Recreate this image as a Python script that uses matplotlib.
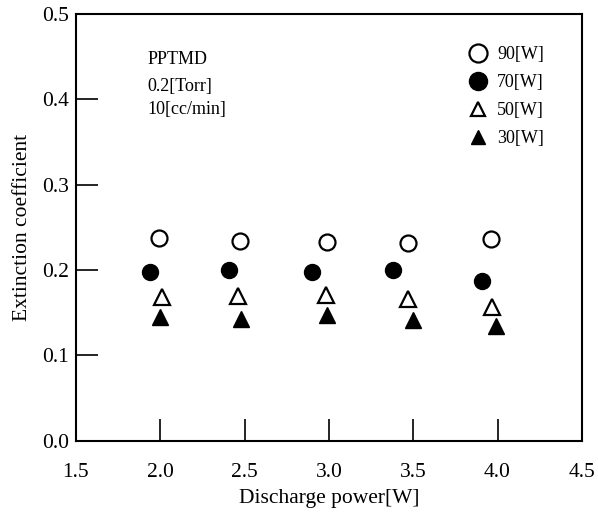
import numpy as np
import matplotlib
matplotlib.use('Agg')
import matplotlib.pyplot as plt
from matplotlib.lines import Line2D

plt.rcParams['font.family'] = ['Liberation Serif', 'DejaVu Serif']

# values
x90 = [1.99, 2.47, 2.99, 3.47, 3.96]
y90 = [0.237, 0.234, 0.233, 0.232, 0.236]
x70 = [1.94, 2.41, 2.90, 3.38, 3.91]
y70 = [0.198, 0.200, 0.198, 0.200, 0.187]
x50 = [2.01, 2.46, 2.98, 3.47, 3.97]
y50 = [0.168, 0.170, 0.171, 0.166, 0.157]
x30 = [2.00, 2.48, 2.99, 3.50, 3.99]
y30 = [0.145, 0.143, 0.147, 0.142, 0.134]

labels = ['90[W]', '70[W]', '50[W]', '30[W]']
xticks = [1.5, 2.0, 2.5, 3.0, 3.5, 4.0, 4.5]
yticks = [0.0, 0.1, 0.2, 0.3, 0.4, 0.5]

fig = plt.figure(figsize=(5.98, 5.12), dpi=100)
ax = fig.add_axes([0.127, 0.139, 0.846, 0.834])

ax.plot(x90, y90, 'o', ms=11.5, mfc='white', mec='black', mew=1.6, ls='none')
ax.plot(x70, y70, 'o', ms=11.5, mfc='black', mec='black', ls='none')
ax.plot(x50, y50, '^', ms=12, mfc='white', mec='black', mew=1.6, ls='none')
ax.plot(x30, y30, '^', ms=12, mfc='black', mec='black', ls='none')

ax.set_xlim(1.5, 4.5)
ax.set_ylim(0.0, 0.5)
ax.set_xticks(xticks)
ax.set_yticks(yticks)
ax.set_xticklabels([f'{v:.1f}' for v in xticks])
ax.set_yticklabels([f'{v:.1f}' for v in yticks])

ax.tick_params(axis='x', direction='in', length=16, width=1.2, pad=16, labelsize=15.5)
ax.tick_params(axis='y', direction='in', length=16, width=1.2, pad=5, labelsize=15.5)
for s in ax.spines.values():
    s.set_linewidth(1.5)

ax.set_xlabel('Discharge power[W]', fontsize=15.5, labelpad=5)
ax.set_ylabel('Extinction coefficient', fontsize=15.5, labelpad=7)

ax.text(0.142, 0.893, 'PPTMD', transform=ax.transAxes, fontsize=13, va='center')
ax.text(0.142, 0.830, '0.2[Torr]', transform=ax.transAxes, fontsize=13, va='center')
ax.text(0.142, 0.776, '10[cc/min]', transform=ax.transAxes, fontsize=13, va='center')

handles = [
    Line2D([], [], marker='o', ms=13, mfc='white', mec='black', mew=1.6, ls='none'),
    Line2D([], [], marker='o', ms=13, mfc='black', mec='black', ls='none'),
    Line2D([], [], marker='^', ms=9.5, mfc='white', mec='black', mew=1.6, ls='none'),
    Line2D([], [], marker='^', ms=9.5, mfc='black', mec='black', ls='none'),
]
ax.legend(handles, labels, loc='upper left', bbox_to_anchor=(0.777, 0.925),
          frameon=False, fontsize=13, handlelength=0.95, handletextpad=0.6,
          labelspacing=0.62, borderpad=0, borderaxespad=0)

fig.savefig('out.png', dpi=100)
